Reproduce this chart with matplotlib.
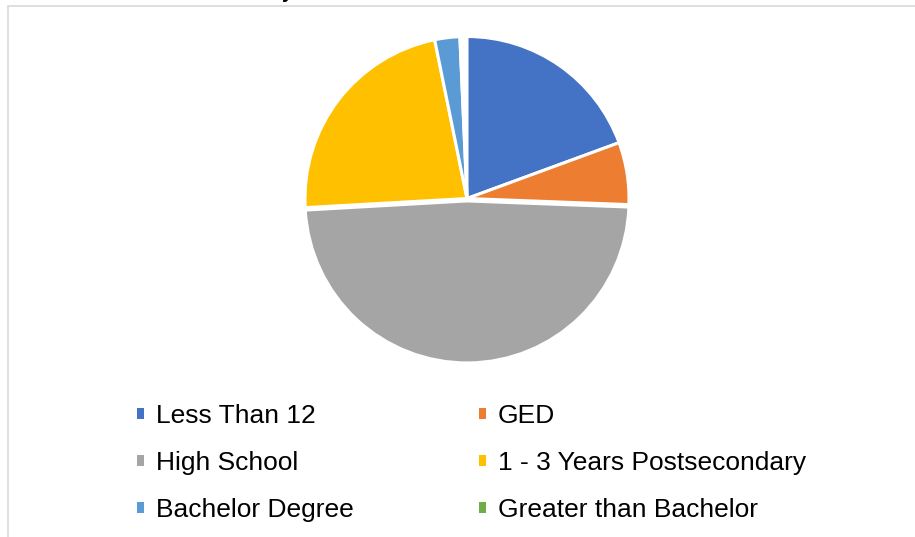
import matplotlib
matplotlib.use("Agg")
import matplotlib.pyplot as plt
from matplotlib.patches import Patch, Rectangle

plt.rcParams['font.family'] = ['Liberation Sans', 'DejaVu Sans']

categories = ["Less Than 12", "GED", "High School", "1 - 3 Years Postsecondary",
              "Bachelor Degree", "Greater than Bachelor"]
shares = [0.194, 0.062, 0.485, 0.227, 0.025, 0.0]
colors = ["#4472C4", "#ED7D31", "#A5A5A5", "#FFC000", "#5B9BD5", "#70AD47"]
explode = [0, 0, 0.015, 0, 0, 0]

W, H = 915, 537
fig = plt.figure(figsize=(W / 100, H / 100), dpi=100)
fig.patch.set_facecolor("white")

# chart-area border
fig.add_artist(Rectangle((7.5 / W, -0.2), 1.5, (H - 6) / H + 0.2,
                         transform=fig.transFigure, fill=False,
                         edgecolor="#D9D9D9", linewidth=1.2))

# cut-off title fragment at top (only its descender is visible in the reference)
fig.text(287 / W, 1 + 2.5 / H, "y", fontsize=14, fontweight="bold",
         ha="center", va="baseline", color="black")

cx, cy, r = 467, 198.5, 162
ax = fig.add_axes([(cx - r) / W, (H - cy - r) / H, 2 * r / W, 2 * r / H])
wedges, _ = ax.pie(shares, colors=colors, startangle=90, counterclock=False,
                   normalize=False, explode=explode, radius=1,
                   wedgeprops=dict(edgecolor="white", linewidth=2.2))
ax.set_xlim(-1, 1)
ax.set_ylim(-1, 1)
ax.set_aspect("equal")
ax.axis("off")

order = [0, 2, 4, 1, 3, 5]
handles = [Patch(facecolor=colors[i], edgecolor="none") for i in order]
labels = [categories[i] for i in order]
fs = 19
fig.legend(handles, labels, ncol=2, loc="upper left",
           bbox_to_anchor=(137 / W, 1 - 404 / H), frameon=False,
           fontsize=fs, handlelength=0.27, handleheight=0.27,
           handletextpad=0.45, columnspacing=4.75, labelspacing=0.87,
           borderpad=0, borderaxespad=0)

fig.savefig("out.png", dpi=100, facecolor="white")
